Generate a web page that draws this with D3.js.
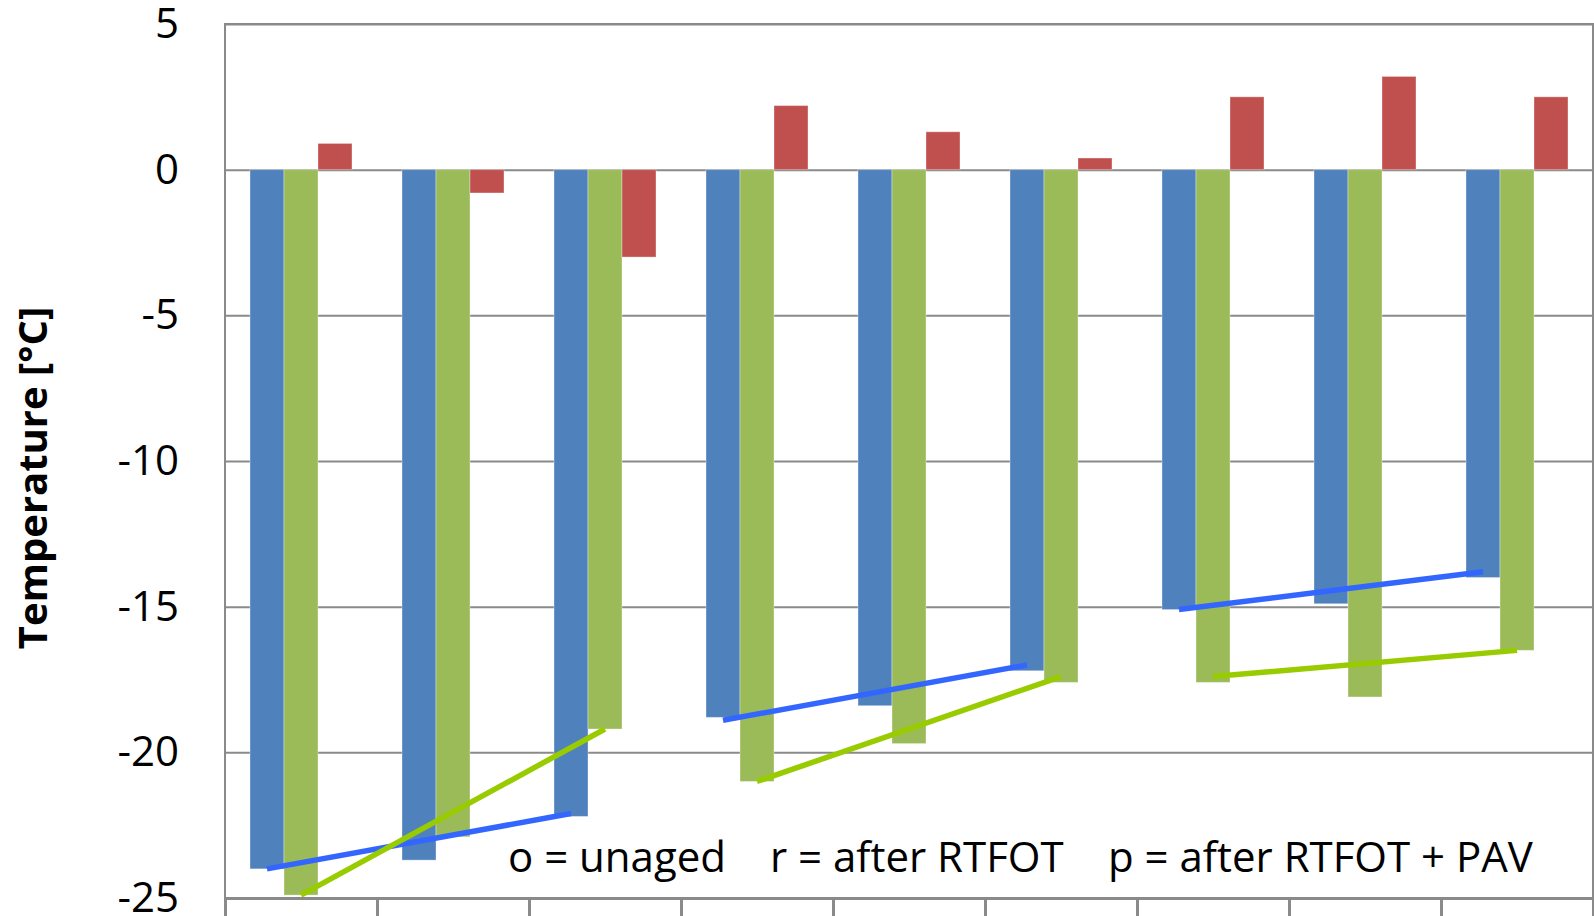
<!DOCTYPE html>
<html>
<head>
<meta charset="utf-8">
<script src="https://cdn.jsdelivr.net/npm/d3@7"></script>
<style>
  body { margin: 0; background: #fff; overflow: hidden; }
  text { font-family: "Open Sans", sans-serif; fill: #000; }
</style>
</head>
<body>
<script>
// data
let categories = ["A o","A r","A p","B o","B r","B p","C o","C r","C p"];
let seriesNames = ["blue","green","red"];
let blueValues  = [-24.0,-23.7,-22.2,-18.8,-18.4,-17.2,-15.1,-14.9,-14.0];
let greenValues = [-24.9,-22.9,-19.2,-21.0,-19.7,-17.6,-17.6,-18.1,-16.5];
let redValues   = [0.9,-0.8,-3.0,2.2,1.3,0.4,2.5,3.2,2.5];
let yTicks = [5,0,-5,-10,-15,-20,-25];

// trend lines: first and last category of each group, start and end value
let trendGroups = [[0,2],[3,5],[6,8]];
let blueTrend  = [[-24.0,-22.1],[-18.9,-17.0],[-15.1,-13.8]];
let greenTrend = [[-24.9,-19.2],[-21.0,-17.4],[-17.4,-16.5]];

let legendItems = ["o = unaged","r = after RTFOT","p = after RTFOT + PAV"];

let width = 1594, height = 916;
let plot = {left:225, right:1593, top:24, bottom:898};
let colors = {blue:"#4F81BD", green:"#9BBB59", red:"#C0504D"};

let svg = d3.select("body").append("svg").attr("width",width).attr("height",height);

let x = d3.scaleBand()
          .domain(categories)
          .range([plot.left,plot.right])
          .paddingInner(50/152)
          .paddingOuter(25/152);

let xs = d3.scaleBand().domain(seriesNames).range([0,x.bandwidth()]);

let y = d3.scaleLinear().domain([-25,5]).range([plot.bottom,plot.top]);

// gridlines
let grid = svg.append("g")
              .attr("transform","translate("+plot.left+",0)")
              .call(d3.axisLeft(y).tickValues(yTicks).tickSize(-(plot.right-plot.left)).tickFormat(""));
grid.select(".domain").remove();
grid.selectAll("line").attr("stroke","#8a8a8a").attr("stroke-width",2);

// bars
let rows = categories.map((c,i)=>({cat:c, blue:blueValues[i], green:greenValues[i], red:redValues[i]}));

let groups = svg.selectAll("g.cat")
                .data(rows)
                .enter().append("g")
                .attr("class","cat")
                .attr("transform",(d)=>"translate("+x(d.cat)+",0)");

groups.selectAll("rect")
      .data((d)=>seriesNames.map((s)=>({s:s, v:d[s]})))
      .enter().append("rect")
      .attr("x",(d)=>xs(d.s))
      .attr("width",xs.bandwidth())
      .attr("y",(d)=>y(Math.max(0,d.v)))
      .attr("height",(d)=>Math.abs(y(d.v)-y(0)))
      .attr("fill",(d)=>colors[d.s])
      .attr("stroke","rgba(255,255,255,0.35)")
      .attr("stroke-width",1);

// plot border
svg.append("rect")
   .attr("x",plot.left).attr("y",plot.top)
   .attr("width",plot.right-plot.left).attr("height",plot.bottom-plot.top)
   .attr("fill","none").attr("stroke","#8a8a8a").attr("stroke-width",2);

// trend lines
let line = d3.line().x((d)=>d[0]).y((d)=>y(d[1]));
function drawTrend(trend, series, color){
  trendGroups.forEach((g,i)=>{
    let pts = [
      [x(categories[g[0]])+xs(series)+xs.bandwidth()/2, trend[i][0]],
      [x(categories[g[1]])+xs(series)+xs.bandwidth()/2, trend[i][1]]
    ];
    svg.append("path")
       .attr("d",line(pts))
       .attr("fill","none")
       .attr("stroke",color)
       .attr("stroke-width",5.5);
  });
}
drawTrend(blueTrend,"blue","#3366FF");
drawTrend(greenTrend,"green","#99CC00");

// y axis labels
let yAxis = svg.append("g")
               .attr("transform","translate("+plot.left+",0)")
               .call(d3.axisLeft(y).tickValues(yTicks).tickSize(0).tickPadding(46).tickFormat((d)=>String(d)));
yAxis.select(".domain").remove();
yAxis.selectAll("text").style("font-size","42px").attr("fill","#000");

// x axis: boundary ticks below the plot
let xb = d3.scaleLinear().domain([0,categories.length]).range([plot.left,plot.right]);
let xAxis = svg.append("g")
               .attr("transform","translate(0,"+plot.bottom+")")
               .call(d3.axisBottom(xb).tickValues(d3.range(categories.length+1)).tickSize(40).tickFormat(""));
xAxis.select(".domain").attr("stroke","#8a8a8a").attr("stroke-width",3);
xAxis.selectAll("line").attr("stroke","#8a8a8a").attr("stroke-width",3);

let xLabels = svg.append("g")
                 .attr("transform","translate(0,"+plot.bottom+")")
                 .call(d3.axisBottom(x).tickSize(0).tickPadding(22));
xLabels.select(".domain").remove();
xLabels.selectAll("text").style("font-size","42px");

// y title
svg.append("text")
   .attr("transform","translate(47,478) rotate(-90)")
   .attr("text-anchor","middle")
   .style("font-size","40px")
   .style("font-weight","bold")
   .text("Temperature [°C]");

// legend text
let legendX = [508,770,1108];
svg.selectAll("text.legend")
   .data(legendItems)
   .enter().append("text")
   .attr("class","legend")
   .attr("x",(d,i)=>legendX[i])
   .attr("y",872)
   .style("font-size","42px")
   .text((d)=>d);
</script>
</body>
</html>
